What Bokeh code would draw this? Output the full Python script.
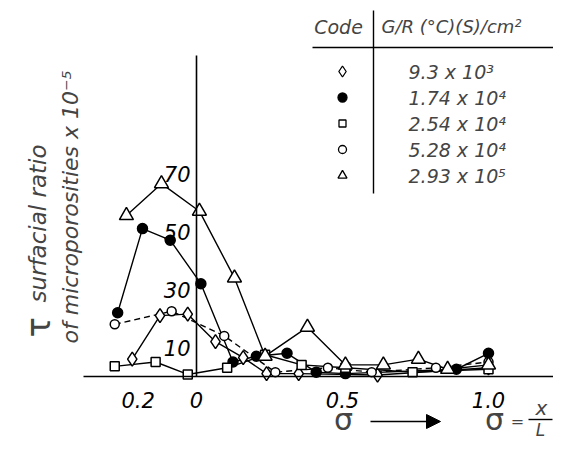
import math
from bokeh.plotting import figure
from bokeh.models import Range1d, LinearAxis, FixedTicker, Label, Arrow, NormalHead
from bokeh.embed import file_html
from bokeh.resources import INLINE

# ---------------- data ----------------
x_ticks = [-0.2, 0, 0.5, 1]
x_tick_labels = ["0.2", "0", "0.5", "1.0"]
y_ticks = [10, 30, 50, 70]
y_tick_labels = ["10", "30", "50", "70"]

codes = ["9.3 x  10³", "1.74 x 10⁴", "2.54 x 10⁴", "5.28 x 10⁴", "2.93 x 10⁵"]

diamond_x = [-0.22, -0.125, -0.03, 0.065, 0.16, 0.24, 0.35, 0.62, 1.0]
diamond_y = [6, 21, 21.5, 12, 6.5, 1, 1, 0.5, 3]

filled_x = [-0.27, -0.185, -0.09, 0.015, 0.125, 0.205, 0.31, 0.41, 0.51, 0.89, 1.0]
filled_y = [22, 51, 47, 32, 5, 7, 8, 1.5, 1, 2.5, 8]

square_x = [-0.28, -0.14, -0.03, 0.105, 0.235, 0.36, 0.51, 0.74, 1.0]
square_y = [3.5, 5, 0.7, 3, 7.5, 4, 3, 1.5, 2.5]

circle_x = [-0.28, -0.085, 0.095, 0.27, 0.45, 0.6, 0.82, 1.0]
circle_y = [18, 22.5, 14, 1.5, 3, 1.5, 3, 5]

triangle_x = [-0.24, -0.12, 0.01, 0.13, 0.235, 0.38, 0.51, 0.64, 0.76, 0.86, 1.0]
triangle_y = [55.5, 66.5, 57, 34, 7, 17, 4, 4, 6, 2.5, 4]

series_x = [diamond_x, filled_x, square_x, circle_x, triangle_x]
series_y = [diamond_y, filled_y, square_y, circle_y, triangle_y]
markers = ["diamond", "circle", "square", "circle", "triangle"]
fills = ["white", "black", "white", "white", "white"]
dashes = ["solid", "solid", "solid", "6 4", "solid"]
sizes = [14, 10, 9, 9, 14]

# ---------------- layout helpers (picture pixel -> data) ----------------
X0, XS = 196.0, 292.0   # picture x of sigma=0, px per unit
Y0, YS = 376.0, 2.9     # picture y of tau=0, px per unit


def X(px):
    return (px - X0) / XS


def Y(py):
    return (Y0 - py) / YS


FONT = "DejaVu Sans"
W, H = 553, 442

p = figure(width=W, height=H, output_backend="svg", toolbar_location=None,
           x_range=Range1d(X(0), X(W)), y_range=Range1d(Y(H), Y(0)),
           x_axis_type=None, y_axis_type=None, min_border=0,
           outline_line_color=None)
p.background_fill_color = "white"

# axes through the origin
xaxis = LinearAxis(fixed_location=0, ticker=FixedTicker(ticks=x_ticks),
                   major_label_overrides={k: v for k, v in zip(x_ticks, x_tick_labels)},
                   bounds=(X(83), X(W)))
yaxis = LinearAxis(fixed_location=0, ticker=FixedTicker(ticks=y_ticks),
                   major_label_overrides={k: v for k, v in zip(y_ticks, y_tick_labels)},
                   bounds=(0, Y(55)))
for ax in (xaxis, yaxis):
    ax.major_tick_in = 0
    ax.major_tick_out = 0
    ax.minor_tick_in = 0
    ax.minor_tick_out = 0
    ax.axis_line_width = 1.6
    ax.axis_line_color = "black"
    ax.major_label_text_font = FONT
    ax.major_label_text_font_style = "italic"
    ax.major_label_text_font_size = "21px"
    ax.major_label_text_color = "black"
xaxis.major_label_standoff = 15
yaxis.major_label_standoff = 6
p.add_layout(xaxis, "below")
p.add_layout(yaxis, "left")

# series
for xs, ys, d in zip(series_x, series_y, dashes):
    p.line(xs, ys, line_color="black", line_width=1.4, line_dash=d)
for xs, ys, m, f, s in zip(series_x, series_y, markers, fills, sizes):
    p.scatter(xs, ys, marker=m, size=s, fill_color=f, line_color="black", line_width=1.5)

# legend table
p.segment(x0=[X(312), X(373)], y0=[Y(47), Y(10)], x1=[X(W), X(373)], y1=[Y(47), Y(193)],
          line_color="black", line_width=1.4)
p.add_layout(Label(x=X(338), y=Y(26), text="Code", text_align="center", text_baseline="middle",
                   text_font=FONT, text_font_style="italic", text_font_size="19px"))
p.add_layout(Label(x=X(381), y=Y(26), text="G/R (°C)(S)/cm²", text_align="left", text_baseline="middle",
                   text_font=FONT, text_font_style="italic", text_font_size="18px"))
leg_x = [X(342)] * len(codes)
leg_y = [Y(71 + 26 * i) for i in range(len(codes))]
leg_sizes = [11, 9, 7, 8, 9]
for i in range(len(codes)):
    p.scatter([leg_x[i]], [leg_y[i]], marker=markers[i], size=leg_sizes[i],
              fill_color=fills[i], line_color="black", line_width=1.3)
    p.add_layout(Label(x=X(408), y=leg_y[i], text=codes[i], text_align="left", text_baseline="middle",
                       text_font=FONT, text_font_style="italic", text_font_size="19px"))

# y title (rotated)
p.add_layout(Label(x=X(37), y=Y(337), text="τ", angle=math.pi / 2, text_align="left",
                   text_baseline="alphabetic", text_font=FONT, text_font_size="34px"))
p.add_layout(Label(x=X(37), y=Y(302), text="surfacial   ratio", angle=math.pi / 2, text_align="left",
                   text_baseline="alphabetic", text_font=FONT, text_font_style="italic",
                   text_font_size="23px"))
p.add_layout(Label(x=X(70), y=Y(343), text="of microporosities x 10⁻⁵", angle=math.pi / 2,
                   text_align="left", text_baseline="alphabetic", text_font=FONT,
                   text_font_style="italic", text_font_size="22px"))

# x title
p.add_layout(Label(x=X(343), y=Y(419), text="σ", text_align="center", text_baseline="middle",
                   text_font=FONT, text_font_size="30px"))
p.add_layout(Arrow(x_start=X(370), y_start=Y(421), x_end=X(440), y_end=Y(421), line_width=1.6,
                   end=NormalHead(size=14, fill_color="black", line_color="black")))
p.add_layout(Label(x=X(494), y=Y(419), text="σ", text_align="center", text_baseline="middle",
                   text_font=FONT, text_font_size="30px"))
p.add_layout(Label(x=X(517), y=Y(421), text="=", text_align="center", text_baseline="middle",
                   text_font=FONT, text_font_size="16px"))
p.add_layout(Label(x=X(541), y=Y(407), text="x", text_align="center", text_baseline="middle",
                   text_font=FONT, text_font_style="italic", text_font_size="20px"))
p.segment(x0=[X(528)], y0=[Y(419)], x1=[X(552)], y1=[Y(419)], line_color="black", line_width=1.4)
p.add_layout(Label(x=X(540), y=Y(429), text="L", text_align="center", text_baseline="middle",
                   text_font=FONT, text_font_style="italic", text_font_size="17px"))

open("out.html", "w").write(file_html(p, INLINE))
